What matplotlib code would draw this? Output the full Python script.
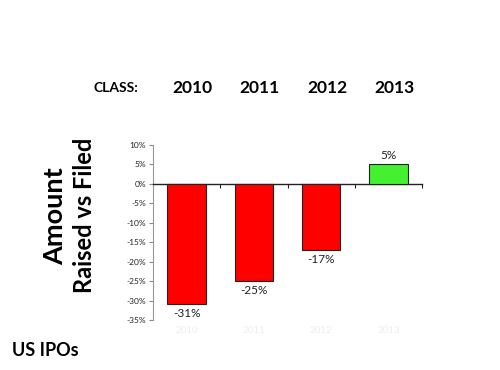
import matplotlib.pyplot as plt
import matplotlib.transforms as mtransforms

years = ['2010', '2011', '2012', '2013']
values = [-31, -25, -17, 5]
colors = ['#ff0000', '#ff0000', '#ff0000', '#44f030']
yticks = [10, 5, 0, -5, -10, -15, -20, -25, -30, -35]

plt.rcParams['font.family'] = ['Lato', 'DejaVu Sans']

fig = plt.figure(figsize=(5, 3.7), dpi=100)
ax = fig.add_axes([0.306, 0.135, 0.538, 0.473])

x = range(len(years))
ax.bar(x, values, width=0.57, color=colors, edgecolor='#222222', linewidth=0.8, zorder=3)

ax.set_xlim(-0.5, 3.5)
ax.set_ylim(-35, 10)
ax.set_yticks(yticks)
ax.set_yticklabels([f'{v}%' for v in yticks], fontsize=6, color='#222222')
ax.tick_params(axis='y', direction='out', length=3, color='#888888', pad=2)

for s in ['top', 'right']:
    ax.spines[s].set_visible(False)
ax.spines['left'].set_color('#999999')
ax.spines['bottom'].set_position(('data', 0))
ax.spines['bottom'].set_color('#222222')
ax.spines['bottom'].set_linewidth(1.0)
ax.set_xticks([0.5, 1.5, 2.5, 3.5])
ax.set_xticklabels([])
ax.tick_params(axis='x', direction='out', length=3, color='#222222')

# faint category labels under the plot
trans = mtransforms.blended_transform_factory(ax.transData, ax.transAxes)
for i, yr in enumerate(years):
    ax.text(i, -0.06, yr, transform=trans, ha='center', va='center',
            fontsize=7, color='#eeeeee')

# value labels
for i, v in enumerate(values):
    if v < 0:
        ax.text(i, v - 0.9, f'{v}%', ha='center', va='top', fontsize=8.5, color='#222222')
    else:
        ax.text(i, v + 0.9, f'{v}%', ha='center', va='bottom', fontsize=8.5, color='#222222')

# header
fig.text(93 / 500, 1 - 88 / 370, 'CLASS:', ha='left', va='center',
         fontsize=10, fontweight='bold')
for i, yr in enumerate(years):
    xd = ax.transData.transform((i, 0))[0] / fig.bbox.width
    fig.text(xd + 0.012, 1 - 88 / 370, yr, ha='center', va='center',
             fontsize=12.5, fontweight='bold')

fig.text(55 / 500, 1 - 216 / 370, 'Amount', rotation=90, ha='center', va='center',
         fontsize=19.5, fontweight='bold')
fig.text(84 / 500, 1 - 215 / 370, 'Raised vs Filed', rotation=90, ha='center', va='center',
         fontsize=17, fontweight='bold')
fig.text(12 / 500, 1 - 350 / 370, 'US IPOs', ha='left', va='center',
         fontsize=13, fontweight='bold')

fig.savefig('out.png', dpi=100)
